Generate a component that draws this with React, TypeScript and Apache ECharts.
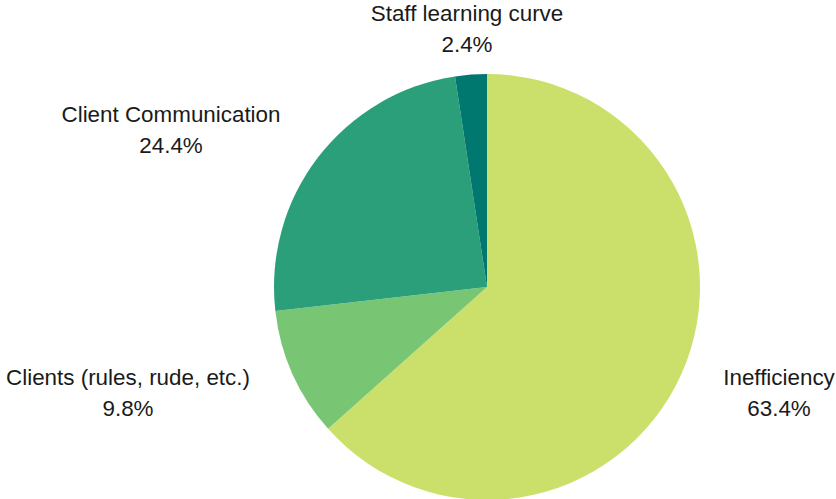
import React, { useEffect, useRef } from "react";
import * as echarts from "echarts";

const categories = ["Inefficiency", "Clients (rules, rude, etc.)", "Client Communication", "Staff learning curve"];
const values = [63.4, 9.8, 24.4, 2.4];
const colors = ["#cbe06a", "#78c674", "#2b9f7a", "#00776f"];
// label block centres (layout only)
const labelPos: [number, number][] = [
  [779, 393],
  [128, 393],
  [171, 130],
  [467, 29],
];

export default function App() {
  const ref = useRef<HTMLDivElement>(null);
  useEffect(() => {
    if (!ref.current) return;
    const chart = echarts.init(ref.current, undefined, { renderer: "svg" });
    chart.setOption({
      animation: false,
      backgroundColor: "#ffffff",
      series: [
        {
          type: "pie",
          center: [487, 287],
          radius: 213,
          startAngle: 90,
          clockwise: true,
          avoidLabelOverlap: false,
          data: categories.map((c, i) => ({
            name: c,
            value: values[i],
            itemStyle: { color: colors[i] },
          })),
          itemStyle: { borderWidth: 0 },
          label: {
            show: true,
            position: "outside",
            formatter: (p: any) => `${p.name}\n${Number(p.value).toFixed(1)}%`,
            fontFamily: "Liberation Sans, Arial, sans-serif",
            fontSize: 22.4,
            lineHeight: 31,
            color: "#1a1a1a",
            align: "center",
          },
          labelLine: { show: false },
          labelLayout: (params: any) => {
            const pos = labelPos[params.dataIndex];
            return { x: pos[0], y: pos[1], align: "center", verticalAlign: "middle" };
          },
          emphasis: { disabled: true },
        },
      ],
    });
    return () => chart.dispose();
  }, []);
  return (
    <div
      ref={ref}
      style={{ position: "fixed", left: 0, top: 0, width: 836, height: 499 }}
    />
  );
}
